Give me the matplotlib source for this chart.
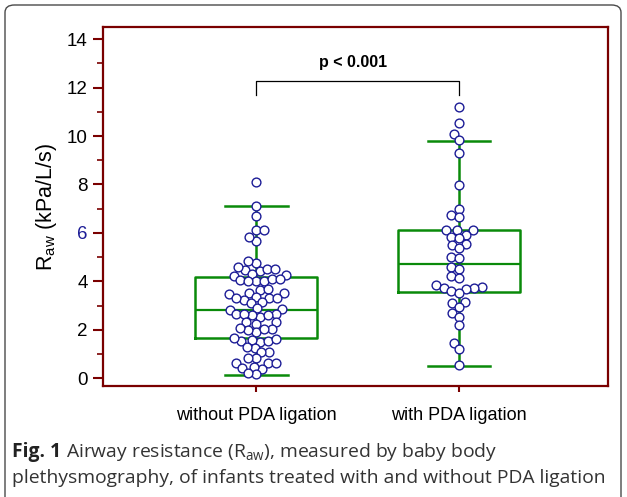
import numpy as np
import matplotlib
matplotlib.use("Agg")
import matplotlib.pyplot as plt
from matplotlib.patches import FancyBboxPatch

# ---------------- data ----------------
categories = ["without PDA ligation", "with PDA ligation"]

without_vals = [8.12, 7.13, 6.68, 6.10, 6.10, 5.68, 5.85, 4.77, 4.84,
                4.43, 4.47, 4.50, 4.51, 4.58,
                4.24, 4.27, 4.31,
                4.02, 4.05, 4.02, 4.02, 4.08, 4.08,
                3.65, 3.69,
                3.47, 3.51, 3.51,
                3.23, 3.30, 3.33, 3.33, 3.37,
                3.09, 3.13,
                2.83, 2.85, 2.88,
                2.54, 2.61, 2.64, 2.64, 2.61, 2.64,
                2.26, 2.31, 2.31,
                1.92, 1.99, 2.03, 2.03, 2.06,
                1.51, 1.54, 1.54, 1.58, 1.62, 1.67,
                1.26, 1.30,
                1.07, 1.07,
                0.82, 0.85,
                0.61, 0.61, 0.61,
                0.38, 0.43, 0.48,
                0.16, 0.20]

with_vals = [11.19, 10.53, 10.09, 9.83, 9.28, 7.96, 6.99, 6.74, 6.65,
             6.10, 6.10, 6.10,
             5.92, 5.85, 5.78,
             5.55, 5.50, 5.37,
             5.02, 4.95,
             4.58, 4.50,
             4.24, 4.13,
             3.85, 3.78,
             3.71, 3.71, 3.67, 3.62, 3.53,
             3.16, 3.12,
             2.96, 2.71, 2.54, 2.20, 1.44, 1.19, 0.55]

# box statistics
box_q1 = [1.65, 3.56]
box_med = [2.82, 4.72]
box_q3 = [4.20, 6.10]
box_whislo = [0.14, 0.52]
box_whishi = [7.13, 9.81]

y_ticks = [0, 2, 4, 6, 8, 10, 12, 14]
p_label = "p < 0.001"
ylabel = r"$\mathregular{R_{aw}}$ (kPa/L/s)"
caption_bold = "Fig. 1"
caption_line1 = r" Airway resistance ($\mathregular{R_{aw}}$), measured by baby body"
caption_line2 = "plethysmography, of infants treated with and without PDA ligation"

# ---------------- figure ----------------
W, H = 627, 497
fig = plt.figure(figsize=(W / 100, H / 100), dpi=100)
ax = fig.add_axes([103 / W, 1 - 386 / H, (608 - 103) / W, (386 - 27) / H])

SPINE = "#7a0000"
GREEN = "#0a8a0a"
NAVY = "#1c1c96"
AX_FONT = "Liberation Sans"

ax.set_xlim(-0.754, 1.734)
ax.set_ylim(-0.32, 14.5)

stats = []
for i in range(2):
    stats.append(dict(q1=box_q1[i], med=box_med[i], q3=box_q3[i],
                      whislo=box_whislo[i], whishi=box_whishi[i], fliers=[]))
ax.bxp(stats, positions=[0, 1], widths=0.60, showfliers=False,
       boxprops=dict(color=GREEN, linewidth=1.8),
       medianprops=dict(color=GREEN, linewidth=1.6),
       whiskerprops=dict(color=GREEN, linewidth=1.8),
       capprops=dict(color=GREEN, linewidth=1.8),
       capwidths=0.31, manage_ticks=False, zorder=2)


def swarm_offsets(vals, center, d_px):
    """Classic beeswarm in pixel space; returns x data positions."""
    vals = np.asarray(vals, float)
    order = np.argsort(vals)
    pts = ax.transData.transform(np.column_stack([np.full(len(vals), center), vals]))
    cx = pts[0, 0]
    placed = []
    xs = np.zeros(len(vals))
    for idx in order:
        y = pts[idx, 1]
        cands = [cx]
        for (px, py) in placed:
            dy = y - py
            if abs(dy) < d_px:
                dx = np.sqrt(d_px ** 2 - dy ** 2)
                cands += [px + dx + 1e-6, px - dx - 1e-6]
        cands = sorted(cands, key=lambda c: (abs(c - cx), c))
        for c in cands:
            ok = all((c - px) ** 2 + (y - py) ** 2 >= d_px ** 2 - 1e-3 for px, py in placed)
            if ok:
                break
        placed.append((c, y))
        xs[idx] = c
    back = ax.transData.inverted().transform(np.column_stack([xs, pts[:, 1]]))
    return back[:, 0]


for i, vals in enumerate([without_vals, with_vals]):
    xpos = swarm_offsets(vals, i, 8.0)
    ax.scatter(xpos, vals, s=40, facecolor="white", edgecolor=NAVY,
               linewidth=1.0, zorder=3)

# significance bracket
ax.plot([0, 0, 1, 1], [11.70, 12.28, 12.28, 11.70], color="black", lw=0.9, zorder=4)
ax.text(0.48, 13.05, p_label, ha="center", va="center", fontsize=11.5,
        fontweight="bold", family=AX_FONT)

ax.set_yticks(y_ticks)
ax.set_yticks(np.arange(1, 14, 2), minor=True)
ax.set_yticklabels([str(t) for t in y_ticks], fontsize=13.5, family=AX_FONT)
for lbl in ax.get_yticklabels():
    if lbl.get_text() == "6":
        lbl.set_color(NAVY)
ax.set_xticks([0, 1])
ax.set_xticklabels(categories, fontsize=13, family=AX_FONT)

ax.tick_params(axis="y", which="major", direction="out", length=7, width=1.5,
               color=SPINE, pad=4)
ax.tick_params(axis="y", which="minor", direction="out", length=4, width=1.2,
               color=SPINE)
ax.tick_params(axis="x", which="major", direction="out", length=4, width=1.5,
               color=SPINE, pad=11)
for s in ax.spines.values():
    s.set_color(SPINE)
    s.set_linewidth(1.6)
ax.set_ylabel(ylabel, fontsize=15.5, family=AX_FONT, labelpad=6)
ax.set_facecolor("white")

# outer rounded frame
frame = FancyBboxPatch((5 / W, -10 / H), (621 - 5) / W, (H - 5 + 10) / H,
                       boxstyle="round,pad=0,rounding_size=0.015",
                       transform=fig.transFigure, fill=False,
                       edgecolor="#4a4a4a", linewidth=1.0, zorder=0)
fig.patches.append(frame)

# caption
CAP_FONT = "Open Sans"
cap_size = 13.9
fig.canvas.draw()
r = fig.canvas.get_renderer()
tb = fig.text(12 / W, 1 - 452 / H, caption_bold, fontsize=cap_size, fontweight="bold",
              family=CAP_FONT, color="#222222", va="center", ha="left")
bb = tb.get_window_extent(renderer=r)
fig.text(bb.x1 / W, 1 - 452 / H, caption_line1, fontsize=cap_size,
         family=CAP_FONT, color="#333333", va="center", ha="left")
fig.text(12 / W, 1 - 478 / H, caption_line2, fontsize=cap_size,
         family=CAP_FONT, color="#333333", va="center", ha="left")

fig.savefig("out.png", dpi=100)
